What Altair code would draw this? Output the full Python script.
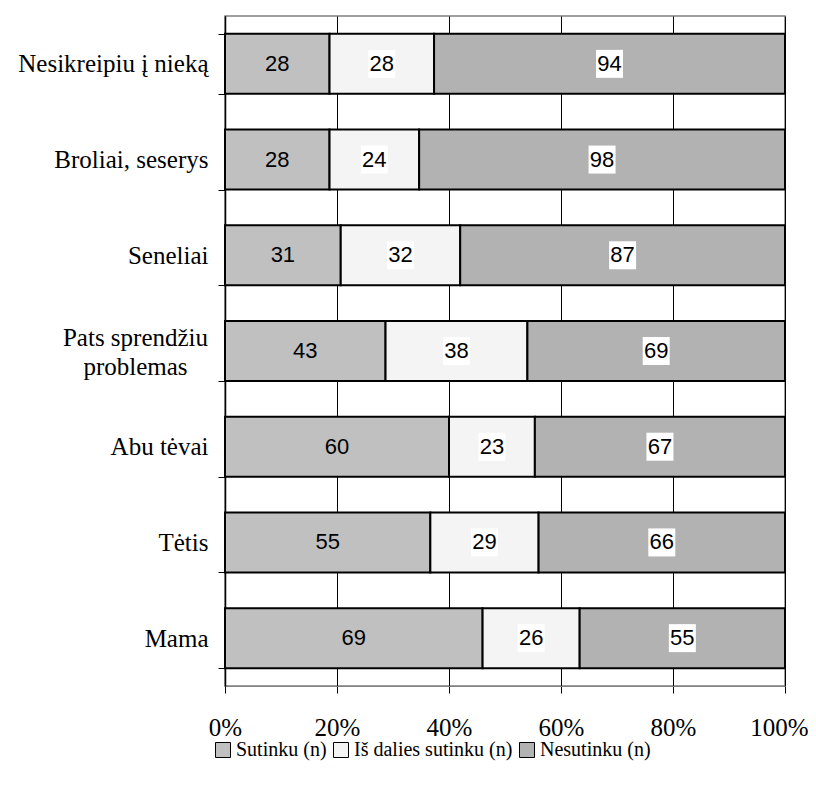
import altair as alt
import pandas as pd

categories = ["Nesikreipiu į nieką", "Broliai, seserys", "Seneliai",
              "Pats sprendžiu problemas", "Abu tėvai", "Tėtis", "Mama"]
series_names = ["Sutinku (n)", "Iš dalies sutinku (n)", "Nesutinku (n)"]
sutinku = [28, 28, 31, 43, 60, 55, 69]
is_dalies = [28, 24, 32, 38, 23, 29, 26]
nesutinku = [94, 98, 87, 69, 67, 66, 55]
series_colors = ["#c0c0c0", "#f4f4f4", "#b2b2b2"]
x_ticks = [0, 0.2, 0.4, 0.6, 0.8, 1.0]

rows = []
for i, c in enumerate(categories):
    for j, (s, vals) in enumerate(zip(series_names, [sutinku, is_dalies, nesutinku])):
        rows.append({"cat": c, "series": s, "value": vals[i], "order": j})
df = pd.DataFrame(rows)

two_line = "datum.value == 'Pats sprendžiu problemas'"
label_expr = ("datum.label == 'Pats sprendžiu problemas' ? "
              "['Pats sprendžiu', 'problemas'] : datum.label")

y_enc = alt.Y("cat:N", sort=categories, title=None,
              scale=alt.Scale(paddingInner=0.373, paddingOuter=0.1865),
              axis=alt.Axis(labelExpr=label_expr, labelFont="Liberation Serif",
                            labelFontSize=25, labelColor="black", labelLineHeight=29,
                            labelPadding=alt.ConditionalAxisNumber(
                                condition={"test": two_line, "value": 83}, value=10),
                            labelAlign=alt.ConditionalAxisString(
                                condition={"test": two_line, "value": "center"}, value="right"),
                            labelOffset=alt.ConditionalAxisNumber(
                                condition={"test": two_line, "value": -14}, value=0),
                            tickSize=7, tickColor="black",
                            tickBand="extent", domainColor="black", domainWidth=1.5,
                            labelLimit=400))

base = alt.Chart(df).transform_stack(
    stack="value", groupby=["cat"], as_=["x0", "x1"], offset="normalize",
    sort=[alt.SortField("order", order="ascending")]
).transform_calculate(mid="(datum.x0 + datum.x1) / 2")

bars = base.mark_bar(stroke="black", strokeWidth=2).encode(
    y=y_enc,
    x=alt.X("x0:Q", title=None, scale=alt.Scale(domain=[0, 1], nice=False),
            axis=alt.Axis(values=x_ticks, format="%", grid=True, gridColor="black",
                          gridWidth=1, labelFont="Liberation Serif", labelFontSize=25,
                          labelColor="black", tickSize=7, tickColor="black",
                          domainColor="#808080", labelPadding=22, labelFlush=False,
                          labelOffset=alt.ConditionalAxisNumber(
                              condition={"test": "datum.value == 1", "value": -6}, value=0))),
    x2="x1:Q",
    color=alt.Color("series:N", sort=series_names, title=None,
                    scale=alt.Scale(domain=series_names, range=series_colors),
                    legend=alt.Legend(orient="none", direction="horizontal",
                                      legendX=-12, legendY=724,
                                      symbolType="square", symbolSize=225,
                                      symbolStrokeColor="black", symbolStrokeWidth=1,
                                      labelFont="Liberation Serif", labelFontSize=20,
                                      labelColor="black", labelOffset=3,
                                      columnPadding=4, labelLimit=400)),
    order=alt.Order("order:Q"),
)

boxes = base.transform_filter("datum.order > 0").mark_point(
    shape="M-0.964,-1L0.964,-1L0.964,1L-0.964,1Z", filled=True,
    fill="white", opacity=1, strokeWidth=0, size=784
).encode(y=alt.Y("cat:N", sort=categories), x=alt.X("mid:Q"))

labels = base.mark_text(font="Liberation Sans", fontSize=22, color="black").encode(
    y=alt.Y("cat:N", sort=categories), x=alt.X("mid:Q"), text="value:Q")

chart = alt.layer(bars, boxes, labels).properties(
    width=560, height=670,
    autosize=alt.AutoSizeParams(type="none"),
    padding={"left": 217, "top": 8, "right": 23, "bottom": 75},
).configure_view(stroke="#808080", strokeWidth=1.5)

chart.save("out.html", embed_options={"renderer": "svg", "actions": False})
